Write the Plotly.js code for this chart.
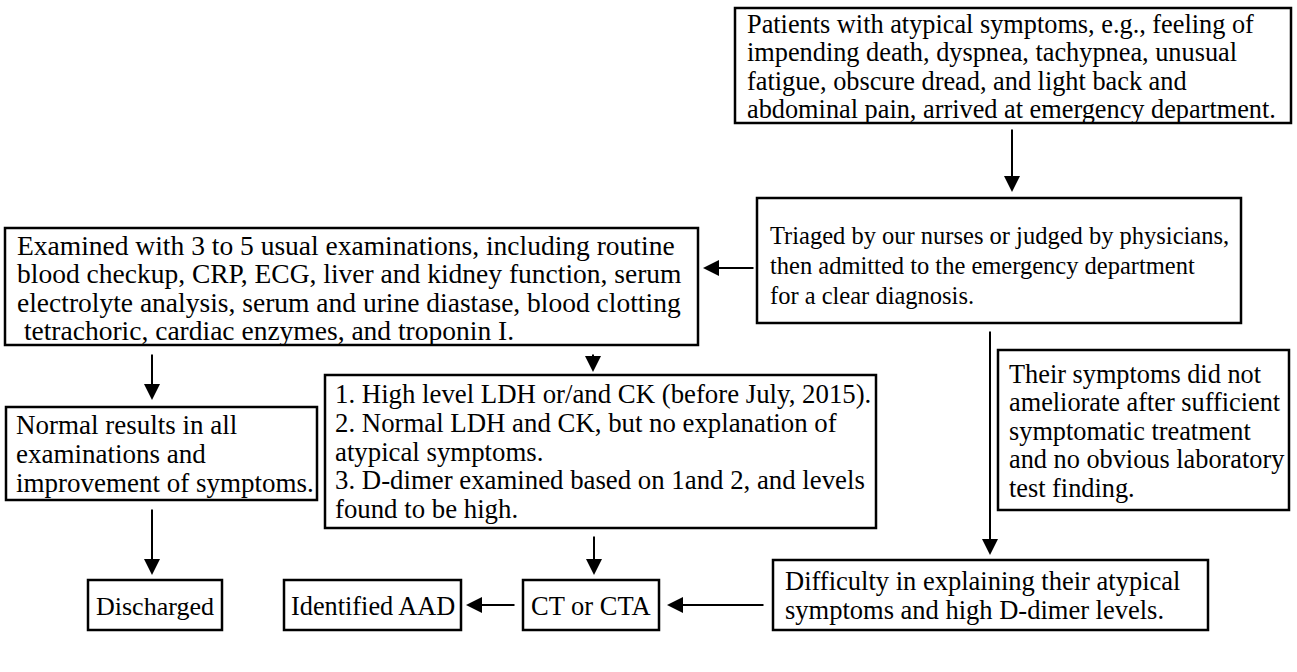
<!DOCTYPE html>
<html>
<head>
<meta charset="utf-8">
<script src="https://cdn.plot.ly/plotly-3.0.1.min.js"></script>
<style>html,body{margin:0;padding:0;background:#fff;}#chart{width:1297px;height:672px;}</style>
</head>
<body>
<div id="chart"></div>
<script>
// ---- flowchart content (text) ----
const boxPatients = ["Patients with atypical symptoms, e.g., feeling of",
  "impending death, dyspnea, tachypnea, unusual",
  "fatigue, obscure dread, and light back and",
  "abdominal pain, arrived at emergency department."];
const boxTriage = ["Triaged by our nurses or judged by physicians,",
  "then admitted to the emergency department",
  "for a clear diagnosis."];
const boxExamined = ["Examined with 3 to 5 usual examinations, including routine",
  "blood checkup, CRP, ECG, liver and kidney function, serum",
  "electrolyte analysis, serum and urine diastase, blood clotting",
  " tetrachoric, cardiac enzymes, and troponin I."];
const boxNormal = ["Normal results in all", "examinations and", "improvement of symptoms."];
const boxCriteria = ["1. High level LDH or/and CK (before July, 2015).",
  "2. Normal LDH and CK, but no explanation of",
  "atypical symptoms.",
  "3. D-dimer examined based on 1and 2, and levels",
  "found to be high."];
const boxNoRelief = ["Their symptoms did not", "ameliorate after sufficient",
  "symptomatic treatment", "and no obvious laboratory", "test finding."];
const boxDifficulty = ["Difficulty in explaining their atypical", "symptoms and high D-dimer levels."];
const boxDischarged = ["Discharged"];
const boxAAD = ["Identified AAD"];
const boxCT = ["CT or CTA"];

// ---- layout geometry (pixel frame) ----
const nodes = [
  {lines: boxPatients,   x0: 735, x1: 1291, y0: 8,   y1: 123, tx: 745, ty: 24,  step: 28.5, fs: 26.3, align: "left"},
  {lines: boxTriage,     x0: 757, x1: 1241, y0: 198, y1: 323, tx: 768, ty: 235, step: 30,   fs: 24.5, align: "left"},
  {lines: boxExamined,   x0: 5,   x1: 698,  y0: 228, y1: 345, tx: 15,  ty: 245, step: 28.5, fs: 27.5, align: "left"},
  {lines: boxNormal,     x0: 6,   x1: 317,  y0: 407, y1: 500, tx: 14,  ty: 425, step: 29,   fs: 27,   align: "left"},
  {lines: boxCriteria,   x0: 325, x1: 876,  y0: 375, y1: 528, tx: 333, ty: 394, step: 28.8, fs: 26.8, align: "left"},
  {lines: boxNoRelief,   x0: 998, x1: 1289, y0: 350, y1: 510, tx: 1007, ty: 374, step: 28.6, fs: 26.3, align: "left"},
  {lines: boxDifficulty, x0: 773, x1: 1208, y0: 560, y1: 630, tx: 783, ty: 581, step: 28.5, fs: 26.5, align: "left"},
  {lines: boxDischarged, x0: 88,  x1: 222,  y0: 580, y1: 630, tx: 155, ty: 606, step: 0,    fs: 26,   align: "center"},
  {lines: boxAAD,        x0: 284, x1: 461,  y0: 580, y1: 630, tx: 373, ty: 606, step: 0,    fs: 26.3, align: "center"},
  {lines: boxCT,         x0: 523, x1: 659,  y0: 580, y1: 630, tx: 591, ty: 606, step: 0,    fs: 26.5, align: "center"}
];
const arrows = [
  {x: 1012, y: 192, ax: 1012, ay: 128},
  {x: 703,  y: 268, ax: 755,  ay: 268},
  {x: 152,  y: 400, ax: 152,  ay: 353},
  {x: 593,  y: 372, ax: 593,  ay: 353},
  {x: 990,  y: 555, ax: 990,  ay: 330},
  {x: 152,  y: 575, ax: 152,  ay: 508},
  {x: 594,  y: 575, ax: 594,  ay: 535},
  {x: 466,  y: 605, ax: 516,  ay: 605},
  {x: 667,  y: 605, ax: 765,  ay: 605}
];

const shapes = nodes.map(n => ({type: "rect", xref: "x", yref: "y", x0: n.x0, x1: n.x1, y0: n.y0, y1: n.y1,
  line: {color: "#000", width: 2.5}, fillcolor: "rgba(0,0,0,0)"}));
const annotations = [];
nodes.forEach(n => n.lines.forEach((t, i) => annotations.push({xref: "x", yref: "y", x: n.tx, y: n.ty + i * n.step,
  text: t.replace(/^ /, "&nbsp;"), showarrow: false, xanchor: n.align, yanchor: "middle", align: n.align,
  font: {family: "Liberation Serif", size: n.fs, color: "#000"}})));
arrows.forEach(a => annotations.push({xref: "x", yref: "y", axref: "x", ayref: "y", x: a.x, y: a.y, ax: a.ax, ay: a.ay,
  text: "", showarrow: true, arrowhead: 2, arrowsize: 1.6, arrowwidth: 2, arrowcolor: "#000"}));

Plotly.newPlot("chart", [], {
  width: 1297, height: 672, margin: {l: 0, r: 0, t: 0, b: 0},
  paper_bgcolor: "#fff", plot_bgcolor: "#fff", showlegend: false,
  font: {family: "Liberation Serif", color: "#000"},
  xaxis: {range: [0, 1297], visible: false, fixedrange: true},
  yaxis: {range: [672, 0], visible: false, fixedrange: true},
  shapes: shapes, annotations: annotations
}, {staticPlot: true});
</script>
</body>
</html>
